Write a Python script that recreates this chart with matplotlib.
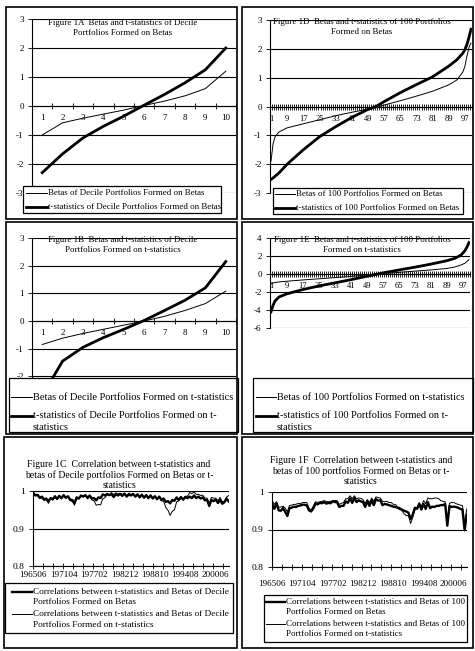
import numpy as np
import matplotlib
matplotlib.use("Agg")
import matplotlib.pyplot as plt
from matplotlib.lines import Line2D
from matplotlib.patches import Rectangle

plt.rcParams['font.family'] = ['Liberation Serif', 'DejaVu Serif']

# ---- data ----
deciles = list(range(1, 11))
betas_1a = [-1.0, -0.58, -0.42, -0.28, -0.14, 0.02, 0.17, 0.35, 0.6, 1.2]
tstats_1a = [-2.3, -1.65, -1.1, -0.7, -0.35, 0.03, 0.4, 0.8, 1.25, 2.0]
betas_1b = [-0.85, -0.62, -0.45, -0.3, -0.15, 0.0, 0.17, 0.38, 0.63, 1.08]
tstats_1b = [-2.7, -1.45, -0.95, -0.6, -0.3, 0.02, 0.38, 0.75, 1.2, 2.15]

port_1d = [1, 2, 3, 5, 9, 17, 25, 33, 41, 49, 53, 57, 65, 73, 81, 89, 93, 96, 97, 98, 99, 100]
betas_1d = [-1.9, -1.3, -1.05, -0.88, -0.74, -0.6, -0.46, -0.32, -0.2, -0.09, -0.03, 0.05,
            0.2, 0.36, 0.53, 0.75, 0.92, 1.2, 1.4, 1.75, 2.05, 2.2]
tstats_1d = [-2.53, -2.48, -2.42, -2.3, -2.0, -1.5, -1.05, -0.7, -0.38, -0.1, 0.0, 0.17,
             0.48, 0.76, 1.03, 1.4, 1.62, 1.85, 1.98, 2.15, 2.4, 2.68]

port_1e = [1, 2, 3, 5, 9, 17, 25, 33, 41, 49, 57, 65, 73, 81, 89, 93, 96, 98, 99, 100]
betas_1e = [-1.1, -1.0, -0.95, -0.88, -0.8, -0.66, -0.53, -0.4, -0.27, -0.12, 0.05, 0.18,
            0.32, 0.45, 0.62, 0.78, 1.0, 1.2, 1.4, 1.6]
tstats_1e = [-4.2, -3.5, -3.0, -2.55, -2.2, -1.72, -1.33, -0.98, -0.63, -0.25, 0.12, 0.45,
             0.76, 1.1, 1.48, 1.75, 2.1, 2.6, 3.0, 3.5]

# month index (0 = 196506), sampled every 5 months
corr_months = list(range(0, 451, 5))
date_labels = ['196506', '197104', '197702', '198212', '198810', '199408', '200006']
date_label_pos = [0, 70, 140, 210, 280, 350, 420]

corr_1c_beta = [0.995, 0.988, 0.990, 0.982, 0.985, 0.977, 0.980, 0.973, 0.981, 0.978,
                0.986, 0.979, 0.987, 0.981, 0.989, 0.982, 0.986, 0.977, 0.976, 0.968,
                0.983, 0.980, 0.988, 0.985, 0.989, 0.982, 0.988, 0.980, 0.981, 0.975,
                0.983, 0.981, 0.991, 0.988, 0.992, 0.989, 0.992, 0.984, 0.991, 0.988,
                0.992, 0.987, 0.993, 0.985, 0.991, 0.988, 0.992, 0.985, 0.991, 0.983,
                0.990, 0.982, 0.989, 0.981, 0.988, 0.980, 0.986, 0.978, 0.985, 0.976,
                0.980, 0.971, 0.973, 0.967, 0.976, 0.974, 0.983, 0.976, 0.984, 0.977,
                0.984, 0.981, 0.985, 0.981, 0.988, 0.981, 0.985, 0.980, 0.983, 0.975,
                0.977, 0.960, 0.976, 0.973, 0.977, 0.968, 0.976, 0.966, 0.970, 0.980,
                0.972]
corr_1c_t = [0.996, 0.989, 0.987, 0.980, 0.982, 0.975, 0.977, 0.967, 0.979, 0.976,
             0.984, 0.977, 0.985, 0.979, 0.987, 0.981, 0.984, 0.974, 0.972, 0.962,
             0.979, 0.979, 0.987, 0.985, 0.988, 0.979, 0.986, 0.976, 0.974, 0.962,
             0.964, 0.963, 0.979, 0.982, 0.990, 0.988, 0.996, 0.990, 0.995, 0.992,
             0.994, 0.991, 0.993, 0.987, 0.994, 0.991, 0.993, 0.986, 0.993, 0.985,
             0.991, 0.983, 0.990, 0.982, 0.989, 0.981, 0.987, 0.979, 0.985, 0.974,
             0.973, 0.956, 0.949, 0.935, 0.946, 0.950, 0.971, 0.974, 0.983, 0.976,
             0.986, 0.986, 0.996, 0.993, 0.997, 0.991, 0.991, 0.988, 0.989, 0.981,
             0.981, 0.966, 0.983, 0.981, 0.981, 0.974, 0.983, 0.971, 0.973, 0.984,
             0.988]
corr_1f_beta = [0.968, 0.955, 0.970, 0.951, 0.950, 0.957, 0.947, 0.936, 0.957, 0.958,
                0.961, 0.960, 0.963, 0.964, 0.966, 0.966, 0.964, 0.951, 0.948, 0.956,
                0.969, 0.967, 0.971, 0.970, 0.973, 0.969, 0.971, 0.970, 0.975, 0.973,
                0.973, 0.960, 0.963, 0.963, 0.975, 0.971, 0.983, 0.971, 0.984, 0.973,
                0.978, 0.975, 0.973, 0.960, 0.975, 0.963, 0.978, 0.965, 0.981, 0.977,
                0.978, 0.965, 0.968, 0.967, 0.965, 0.963, 0.961, 0.960, 0.958, 0.955,
                0.953, 0.950, 0.948, 0.945, 0.928, 0.940, 0.958, 0.955, 0.968, 0.953,
                0.968, 0.955, 0.973, 0.957, 0.961, 0.960, 0.963, 0.963, 0.965, 0.965,
                0.968, 0.910, 0.963, 0.960, 0.961, 0.960, 0.958, 0.955, 0.953, 0.898,
                0.940]
corr_1f_t = [0.977, 0.967, 0.974, 0.959, 0.960, 0.962, 0.957, 0.947, 0.964, 0.965,
             0.967, 0.967, 0.970, 0.969, 0.972, 0.972, 0.972, 0.957, 0.952, 0.962,
             0.974, 0.972, 0.974, 0.975, 0.977, 0.975, 0.974, 0.975, 0.977, 0.977,
             0.977, 0.967, 0.970, 0.972, 0.982, 0.982, 0.990, 0.982, 0.990, 0.982,
             0.984, 0.983, 0.980, 0.969, 0.980, 0.972, 0.984, 0.975, 0.987, 0.985,
             0.984, 0.975, 0.974, 0.975, 0.972, 0.972, 0.967, 0.967, 0.960, 0.959,
             0.950, 0.942, 0.937, 0.937, 0.916, 0.932, 0.952, 0.959, 0.972, 0.962,
             0.977, 0.969, 0.984, 0.982, 0.982, 0.984, 0.984, 0.982, 0.977, 0.975,
             0.974, 0.918, 0.970, 0.972, 0.972, 0.969, 0.967, 0.965, 0.964, 0.913,
             0.955]

W, H = 475, 651
fig = plt.figure(figsize=(W / 100, H / 100), dpi=100)


def axes_px(x0, y0, x1, y1):
    return fig.add_axes([x0 / W, 1 - y1 / H, (x1 - x0) / W, (y1 - y0) / H])


def frame(x0, y0, x1, y1, lw=1.2, fill=False):
    fig.patches.append(Rectangle((x0 / W, 1 - y1 / H), (x1 - x0) / W, (y1 - y0) / H,
                                 transform=fig.transFigure, fill=fill, fc='white',
                                 ec='black', lw=lw, zorder=5))


def legend_box(box, hx0, hx1, rows, size):
    x0, y0, x1, y1 = box
    frame(x0, y0, x1, y1, lw=0.9, fill=True)
    for lw, text, y in rows:
        if lw:
            fig.add_artist(Line2D([hx0 / W, hx1 / W], [1 - y / H, 1 - y / H], lw=lw,
                                  color='black', transform=fig.transFigure, zorder=6))
        fig.text((hx1 + 1) / W, 1 - y / H, text, fontsize=size, va='center', ha='left',
                 zorder=6)


def title_px(x, y, text, size):
    fig.text(x / W, 1 - y / H, text, fontsize=size, ha='center', va='center',
             linespacing=1.2)


def style_value_axis(ax, ticks, labels, size):
    for s in ['top', 'right']:
        ax.spines[s].set_visible(False)
    ax.spines['left'].set_linewidth(0.8)
    ax.spines['bottom'].set_linewidth(0.8)
    ax.set_yticks(ticks)
    ax.set_yticklabels(labels)
    ax.tick_params(axis='y', direction='out', length=3, width=0.6, pad=3, labelsize=size)
    ax.yaxis.grid(True, color='black', lw=0.8)
    ax.set_axisbelow(True)


def category_axis(ax, n, label_pos, size, pad):
    ax.set_xlim(0.5, n + 0.5)
    ax.spines['bottom'].set_position(('data', 0))
    ax.set_xticks(np.arange(0.5, n + 1, 1))
    ax.set_xticklabels([])
    ax.set_xticks(label_pos, minor=True)
    ax.set_xticklabels([str(p) for p in label_pos], minor=True)
    ax.tick_params(axis='x', which='major', direction='inout', length=5, width=0.6)
    ax.tick_params(axis='x', which='minor', length=0, pad=pad, labelsize=size)


int_ticks = [-3, -2, -1, 0, 1, 2, 3]
int_labels = [str(t) for t in int_ticks]

# ---- Figure 1A ----
ax = axes_px(32, 19, 236, 193)
ax.plot(deciles, betas_1a, color='black', lw=0.7)
ax.plot(deciles, tstats_1a, color='black', lw=2.0)
ax.set_ylim(-3, 3)
style_value_axis(ax, int_ticks, int_labels, 6.5)
category_axis(ax, 10, deciles, 6.5, 6)
title_px(123, 28, "Figure 1A  Betas and t-statistics of Decile\nPortfolios Formed on Betas", 6.4)
legend_box((23, 186, 221, 213), 26, 47,
           [(0.7, "Betas of Decile Portfolios Formed on Betas", 193),
            (2.0, "t-statistics of Decile Portfolios Formed on Betas", 207)], 6.4)

# ---- Figure 1D ----
ax = axes_px(270, 20, 472, 193)
ax.plot(port_1d, betas_1d, color='black', lw=0.7)
ax.plot(port_1d, tstats_1d, color='black', lw=2.0)
ax.set_ylim(-3, 3)
style_value_axis(ax, int_ticks, int_labels, 6.5)
category_axis(ax, 100, list(range(1, 101, 8)), 6.2, 6)
title_px(362, 27, "Figure 1D  Betas and t-statistics of 100 Portfolios\nFormed on Betas", 6.4)
legend_box((273, 188, 463, 214), 275, 295,
           [(0.7, "Betas of 100 Portfolios Formed on Betas", 194),
            (2.0, "t-statistics of 100 Portfolios Formed on Betas", 208)], 6.4)

# ---- Figure 1B ----
ax = axes_px(32, 238, 236, 404)
ax.plot(deciles, betas_1b, color='black', lw=0.7)
ax.plot(deciles, tstats_1b, color='black', lw=2.0)
ax.set_ylim(-3, 3)
style_value_axis(ax, int_ticks, int_labels, 6.5)
category_axis(ax, 10, deciles, 6.5, 6)
title_px(123, 245, "Figure 1B  Betas and t-statistics of Decile\nPortfolios Formed on t-statistics", 6.4)
legend_box((9, 378, 238, 432), 11, 32,
           [(0.7, "Betas of Decile Portfolios Formed on t-statistics", 397),
            (2.0, "t-statistics of Decile Portfolios Formed on t-", 416),
            (None, "statistics", 428)], 7.5)

# ---- Figure 1E ----
ax = axes_px(270, 238, 470, 328)
ax.plot(port_1e, betas_1e, color='black', lw=0.7)
ax.plot(port_1e, tstats_1e, color='black', lw=2.0)
ax.set_ylim(-6, 4)
e_ticks = [-6, -4, -2, 0, 2, 4]
style_value_axis(ax, e_ticks, [str(t) for t in e_ticks], 6.5)
category_axis(ax, 100, list(range(1, 101, 8)), 6.2, 6)
title_px(362, 245, "Figure 1E  Betas and t-statistics of 100 Portfolios\nFormed on t-statistics", 6.4)
legend_box((253, 378, 473, 432), 256, 276,
           [(0.7, "Betas of 100 Portfolios Formed on t-statistics", 397),
            (2.0, "t-statistics of 100 Portfolios Formed on t-", 416),
            (None, "statistics", 428)], 7.4)


# ---- Figure 1C / 1F ----
def corr_axis(ax, pad):
    ax.set_xlim(-0.5, 450.5)
    ax.set_ylim(0.8, 1.0)
    style_value_axis(ax, [0.8, 0.9, 1.0], ['0.8', '0.9', '1'], 6.8)
    ax.set_xticks(np.arange(-0.5, 451, 23))
    ax.set_xticklabels([])
    ax.set_xticks(date_label_pos, minor=True)
    ax.set_xticklabels(date_labels, minor=True)
    ax.tick_params(axis='x', which='major', direction='inout', length=4, width=0.6)
    ax.tick_params(axis='x', which='minor', length=0, pad=pad, labelsize=6.6)


ax = axes_px(33, 491, 229, 566)
ax.plot(corr_months, corr_1c_beta, color='black', lw=1.7)
ax.plot(corr_months, corr_1c_t, color='black', lw=0.7)
corr_axis(ax, 3.5)
title_px(119, 475, "Figure 1C  Correlation between t-statistics and\n"
         "betas of Decile portfolios Formed on Betas or t-\nstatistics", 7.0)
legend_box((5, 583, 233, 633), 12, 32,
           [(1.7, "Correlations between t-statistics and Betas of Decile", 592),
            (None, "Portfolios Formed on Betas", 602),
            (0.7, "Correlations between t-statistics and Betas of Decile", 614),
            (None, "Portfolios Formed on t-statistics", 625)], 6.7)

ax = axes_px(272, 492, 467, 567)
ax.plot(corr_months, corr_1f_beta, color='black', lw=1.7)
ax.plot(corr_months, corr_1f_t, color='black', lw=0.7)
corr_axis(ax, 9)
title_px(361, 471, "Figure 1F  Correlation between t-statistics and\n"
         "betas of 100 portfolios Formed on Betas or t-\nstatistics", 7.0)
legend_box((264, 595, 467, 642), 266, 285,
           [(1.7, "Correlations between t-statistics and Betas of 100", 602),
            (None, "Portfolios Formed on Betas", 612),
            (0.7, "Correlations between t-statistics and Betas of 100", 624),
            (None, "Portfolios Formed on t-statistics", 634)], 6.5)

# ---- panel frames ----
for box in [(6, 7, 237, 219), (242, 7, 473, 219),
            (6, 222, 237, 434), (242, 222, 473, 434),
            (4, 437, 237, 648), (242, 437, 473, 648)]:
    frame(*box)

fig.savefig("out.png", dpi=100)
